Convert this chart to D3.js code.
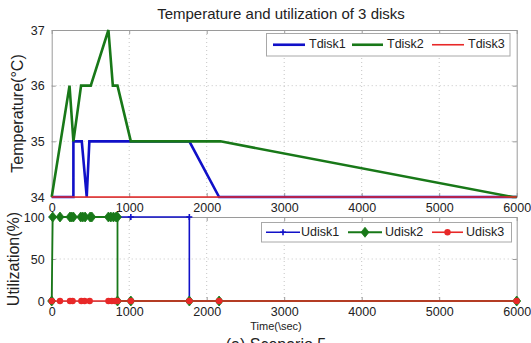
<!DOCTYPE html>
<html><head><meta charset="utf-8">
<script src="https://cdn.jsdelivr.net/npm/d3@7"></script>
<style>
body{margin:0;background:#fff}
svg{display:block}
text{font-family:"Liberation Sans",Arial,sans-serif;fill:#222}
</style>
</head><body>
<svg id="chart" width="531" height="343"></svg>
<script>
// Axis ticks
const xTicks = [0, 1000, 2000, 3000, 4000, 5000, 6000];
const tempTicks = [34, 35, 36, 37];
const utilTicks = [0, 50, 100];

// Disk temperatures (°C) over time (s)
const t1Time = [0, 280, 280, 388, 452, 486, 1021, 1776, 2160, 6000];
const tdisk1 = [34, 34, 35, 35, 34, 35, 35, 35, 34, 34];
const t2Time = [0, 230, 280, 379, 504, 732, 789, 849, 1021, 2177, 5950, 6000];
const tdisk2 = [34, 36, 35, 36, 36, 37, 36, 36, 35, 35, 34, 34];
const t3Time = [0, 6000];
const tdisk3 = [34, 34];

// Disk utilization (%) over time (s)
const u1Time = [0, 280, 490, 849, 1021, 1776, 1776, 2160, 6000];
const udisk1 = [100, 100, 100, 100, 100, 100, 0, 0, 0];
const u2Time = [0, 13, 107, 236, 258, 280, 375, 401, 431, 496, 517, 732, 763, 797, 831, 849, 849, 1021, 1776, 2160, 6000];
const udisk2 = [0, 100, 100, 100, 100, 100, 100, 100, 100, 100, 100, 100, 100, 100, 100, 100, 0, 0, 0, 0, 0];
const u3Time = [0, 107, 236, 270, 382, 425, 490, 732, 775, 818, 849, 1021, 1776, 2160, 6000];
const udisk3 = [0, 0, 0, 0, 0, 0, 0, 0, 0, 0, 0, 0, 0, 0, 0];

const tempSeries = [
  {name: "Tdisk1", time: t1Time, vals: tdisk1, color: "#1010c8", width: 2.6},
  {name: "Tdisk2", time: t2Time, vals: tdisk2, color: "#187818", width: 2.6},
  {name: "Tdisk3", time: t3Time, vals: tdisk3, color: "#e82828", width: 1.6}
];
const utilSeries = [
  {name: "Udisk1", time: u1Time, vals: udisk1, color: "#1010c8", width: 1.6, marker: "plus"},
  {name: "Udisk2", time: u2Time, vals: udisk2, color: "#187818", width: 1.8, marker: "diamond"},
  {name: "Udisk3", time: u3Time, vals: udisk3, color: "#e82828", width: 1.6, marker: "circle"}
];

const svg = d3.select("#chart");
const left = 51.7, right = 516.7;
const x = d3.scaleLinear().domain([0, 6000]).range([left, right]);
const yT = d3.scaleLinear().domain([34, 37]).range([197, 30]);
const yU = d3.scaleLinear().domain([0, 100]).range([301, 217]);

const frameColor = "#9a9a9a";
const gridColor = "#c4c4c4";
const fmt = d3.format("d");

function panel(y, yTicks, yLabelX, yLabel) {
  const g = svg.append("g");
  const [yb, yt] = y.range();
  g.append("rect").attr("x", left).attr("y", yt).attr("width", right - left).attr("height", yb - yt)
    .attr("fill", "#fff");
  // dotted grid
  g.selectAll(".gx").data(xTicks.slice(1, -1)).join("line")
    .attr("x1", d => x(d)).attr("x2", d => x(d)).attr("y1", yt).attr("y2", yb)
    .attr("stroke", gridColor).attr("stroke-width", 1).attr("stroke-dasharray", "1,3");
  g.selectAll(".gy").data(yTicks.slice(1, -1)).join("line")
    .attr("x1", left).attr("x2", right).attr("y1", d => y(d)).attr("y2", d => y(d))
    .attr("stroke", gridColor).attr("stroke-width", 1).attr("stroke-dasharray", "1,3");
  // axes with inward ticks
  const axB = g.append("g").attr("transform", `translate(0,${yb})`)
    .call(d3.axisBottom(x).tickValues(xTicks).tickFormat(fmt).tickSizeInner(-4).tickSizeOuter(0).tickPadding(6));
  const axT = g.append("g").attr("transform", `translate(0,${yt})`)
    .call(d3.axisTop(x).tickValues(xTicks).tickSizeInner(-4).tickSizeOuter(0).tickFormat(""));
  const axL = g.append("g").attr("transform", `translate(${left},0)`)
    .call(d3.axisLeft(y).tickValues(yTicks).tickFormat(fmt).tickSizeInner(-4).tickSizeOuter(0).tickPadding(7));
  const axR = g.append("g").attr("transform", `translate(${right},0)`)
    .call(d3.axisRight(y).tickValues(yTicks).tickSizeInner(-4).tickSizeOuter(0).tickFormat(""));
  [axB, axT, axL, axR].forEach(a => {
    a.select(".domain").attr("stroke", frameColor);
    a.selectAll(".tick line").attr("stroke", frameColor);
    a.selectAll("text").attr("font-size", 12.5).attr("fill", "#222")
      .attr("font-family", '"Liberation Sans",Arial,sans-serif');
  });
  svg.append("text").attr("transform", `translate(${yLabelX},${(yt + yb) / 2}) rotate(-90)`)
    .attr("text-anchor", "middle").attr("dominant-baseline", "middle")
    .attr("font-size", 16).text(yLabel);
  return g;
}

const gT = panel(yT, tempTicks, 19, "Temperature(°C)");
const gU = panel(yU, utilTicks, 15, "Utilization(%)");

// temperature lines
tempSeries.forEach(s => {
  const pts = s.time.map((t, i) => [t, s.vals[i]]);
  gT.append("path").datum(pts)
    .attr("d", d3.line().x(d => x(d[0])).y(d => yT(d[1])))
    .attr("fill", "none").attr("stroke", s.color).attr("stroke-width", s.width)
    .attr("stroke-linejoin", "miter");
});

function drawMarker(g, kind, cx, cy, color) {
  if (kind === "diamond") {
    g.append("path").attr("d", `M${cx},${cy - 5}L${cx + 4},${cy}L${cx},${cy + 5}L${cx - 4},${cy}Z`)
      .attr("fill", color).attr("stroke", color).attr("stroke-width", 0.8);
  } else if (kind === "circle") {
    g.append("circle").attr("cx", cx).attr("cy", cy).attr("r", 3.2).attr("fill", color);
  } else {
    g.append("path").attr("d", `M${cx - 3},${cy}H${cx + 3}M${cx},${cy - 3}V${cy + 3}`)
      .attr("stroke", color).attr("stroke-width", 1.6);
  }
}

// utilization lines with markers
utilSeries.forEach(s => {
  const pts = s.time.map((t, i) => [t, s.vals[i]]);
  gU.append("path").datum(pts)
    .attr("d", d3.line().x(d => x(d[0])).y(d => yU(d[1])))
    .attr("fill", "none").attr("stroke", s.color).attr("stroke-width", s.width);
  pts.forEach(p => drawMarker(gU, s.marker, x(p[0]), yU(p[1]), s.color));
});

// legends
function legend(series, lx, ly, w, h, withMarkers, textPos, linePos) {
  const g = svg.append("g");
  g.append("rect").attr("x", lx).attr("y", ly).attr("width", w).attr("height", h)
    .attr("fill", "#fff").attr("stroke", "#a8a8a8").attr("stroke-width", 1);
  const cy = ly + h / 2;
  series.forEach((s, i) => {
    const [a, b] = linePos[i];
    g.append("line").attr("x1", a).attr("x2", b).attr("y1", cy).attr("y2", cy)
      .attr("stroke", s.color).attr("stroke-width", s.width);
    if (withMarkers) drawMarker(g, s.marker, (a + b) / 2, cy, s.color);
    g.append("text").attr("x", textPos[i]).attr("y", cy).attr("dominant-baseline", "middle")
      .attr("font-size", 12.5).text(s.name);
  });
}
legend(tempSeries, 266.5, 33.5, 243.5, 22.5, false,
  [309, 387, 468], [[273, 305], [352, 383], [432, 464]]);
legend(utilSeries, 261.5, 222.5, 250, 19.5, true,
  [301, 385, 466], [[266, 300], [348, 382], [432, 463]]);

// title, axis label and caption
svg.append("text").attr("x", 281).attr("y", 19).attr("text-anchor", "middle")
  .attr("font-size", 15).text("Temperature and utilization of 3 disks");
svg.append("text").attr("x", 276).attr("y", 330).attr("text-anchor", "middle")
  .attr("font-size", 11).text("Time(\\sec)");
svg.append("text").attr("x", 276).attr("y", 350).attr("text-anchor", "middle")
  .attr("font-size", 16).text("(a) Scenario 5");
</script>
</body></html>
